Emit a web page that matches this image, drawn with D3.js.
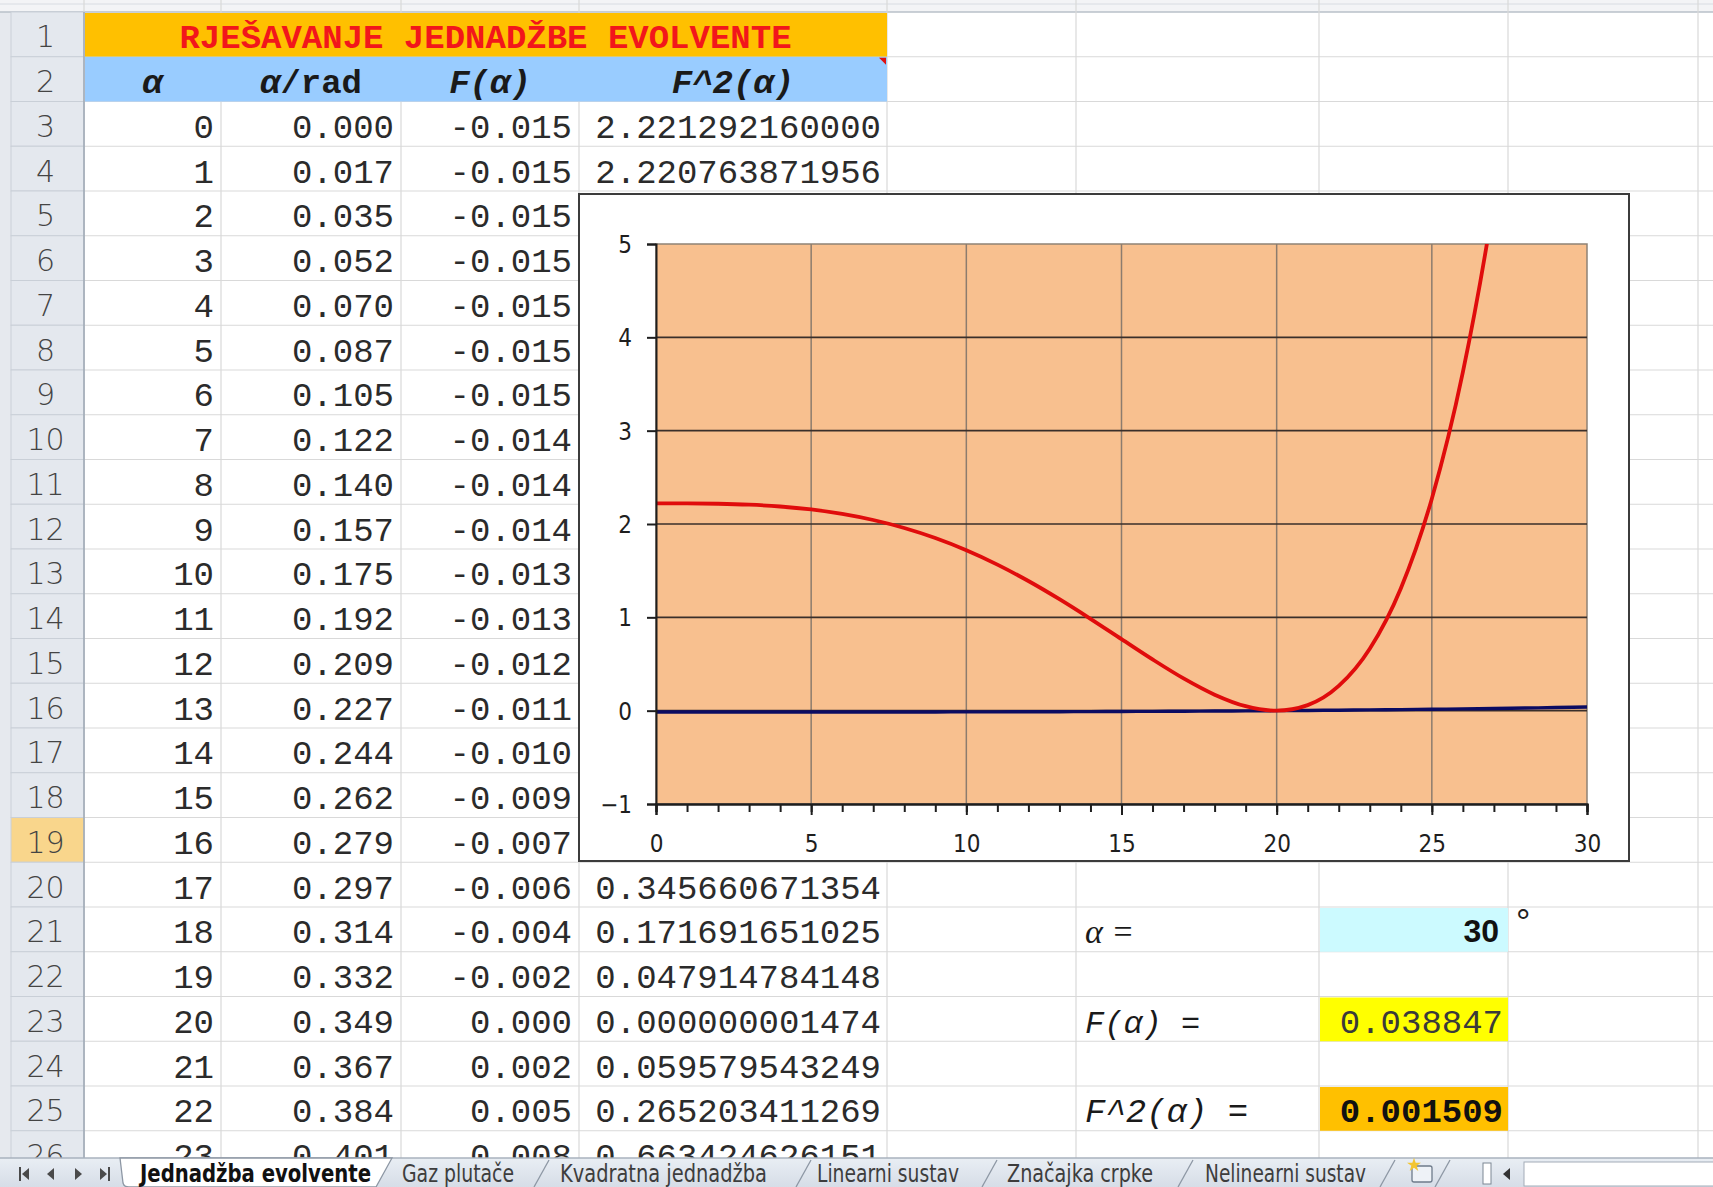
<!DOCTYPE html>
<html>
<head>
<meta charset="utf-8">
<script src="https://cdn.jsdelivr.net/npm/d3@7"></script>
<style>
body{margin:0;background:#fff;}
svg{display:block;}
</style>
</head>
<body>
<svg id="sheet" width="1713" height="1187"></svg>
<script>
// ---------------------------------------------- DATA ----------------------------------------------
// chart series: alpha in degrees, F(alpha) and F^2(alpha) (column D is F^2 * 10^4)
var ALPHA = [0,1,2,3,4,5,6,7,8,9,10,11,12,13,14,15,16,17,18,19,20,21,22,23,24,25,26,27,28,29,30];
var F_VALUES = [-0.01490,-0.01490,-0.01489,-0.01486,-0.01479,-0.01468,-0.01452,-0.01429,-0.01399,-0.01360,
	-0.01311,-0.01251,-0.01179,-0.01093,-0.00992,-0.00875,-0.00741,-0.00588,-0.00414,-0.00219,
	0.00000,0.00244,0.00515,0.00815,0.01145,0.01507,0.01904,0.02338,0.02811,0.03326,0.03885];
var F2_VALUES = [2.2213,2.2208,2.2171,2.2070,2.1876,2.1556,2.1082,2.0428,1.9571,1.8494,
	1.7187,1.5650,1.3893,1.1943,0.9845,0.7664,0.5493,0.3457,0.1717,0.0479,
	0.0000,0.0596,0.2652,0.6634,1.3100,2.2714,3.6264,5.4675,7.9035,11.062,15.091];
var Y_TICKS = [-1,0,1,2,3,4,5];
var X_TICKS = [0,5,10,15,20,25,30];
var X_MINOR = [0,1,2,3,4,5,6,7,8,9,10,11,12,13,14,15,16,17,18,19,20,21,22,23,24,25,26,27,28,29,30];

// table text (rows 3..26)
var TABLE_ALPHA = ["0","1","2","3","4","5","6","7","8","9","10","11","12","13","14","15","16","17","18","19","20","21","22","23"];
var TABLE_RAD = ["0.000","0.017","0.035","0.052","0.070","0.087","0.105","0.122","0.140","0.157","0.175","0.192",
	"0.209","0.227","0.244","0.262","0.279","0.297","0.314","0.332","0.349","0.367","0.384","0.401"];
var TABLE_F = ["-0.015","-0.015","-0.015","-0.015","-0.015","-0.015","-0.015","-0.014","-0.014","-0.014","-0.013","-0.013",
	"-0.012","-0.011","-0.010","-0.009","-0.007","-0.006","-0.004","-0.002","0.000","0.002","0.005","0.008"];
// rows 5..19 of column D sit under the chart
var TABLE_F2 = ["2.221292160000","2.220763871956","","","","","","","","","","","","","","","","0.345660671354",
	"0.171691651025","0.047914784148","0.000000001474","0.059579543249","0.265203411269","0.663424626151"];
// header parts: [italic part, upright part]
var HEADERS = [["α",""],["α","/rad"],["F(α)",""],["F^2(α)",""]];
var TITLE = "RJEŠAVANJE JEDNADŽBE EVOLVENTE";
var SHEET_TABS = ["Jednadžba evolvente","Gaz plutače","Kvadratna jednadžba","Linearni sustav","Značajka crpke","Nelinearni sustav"];

// ---------------------------------------------- LAYOUT ----------------------------------------------
var COLS = [11,84,221,401,579,887,1076,1319,1508,1698,1713];
var ROW_TOP = 12, ROW_H = 44.75, N_ROWS = 26, TAB_TOP = 1158;
var MONO = "'Liberation Mono','Courier New',monospace";
var NARROW = "'Liberation Sans Narrow','DejaVu Sans Condensed','Liberation Sans',sans-serif";
var TAB_X = [140,402,560,817,1007,1205];
var TAB_W = [231,112,207,142,146,161];
var TAB_SEP = [541,803,989,1185,1387,1442];

var svg = d3.select("#sheet");
var defs = svg.append("defs");
// the sheet area ends where the tab bar starts
defs.append("clipPath").attr("id","sheetClip").append("rect")
	.attr("x",0).attr("y",0).attr("width",1713).attr("height",TAB_TOP);

function rowY(r){ return ROW_TOP+(r-1)*ROW_H; }

function _cellText(g,text,x,row,anchor,opts){
	opts = opts || {};
	return g.append("text")
		.text(text)
		.attr("x",x)
		.attr("y",rowY(row)+ROW_H/2+(opts.dy||14))
		.attr("text-anchor",anchor)
		.style("font-family",opts.family||MONO)
		.style("font-size",(opts.size||34)+"px")
		.style("font-weight",opts.weight||"normal")
		.style("font-style",opts.style||"normal")
		.style("fill",opts.fill||"#2b2b2b");
}

// ---------------------------------------------- GRID ----------------------------------------------
function drawGrid(){
	var g = svg.append("g").attr("id","grid").attr("clip-path","url(#sheetClip)");
	g.append("rect").attr("x",0).attr("y",0).attr("width",1713).attr("height",1187).style("fill","#fff");
	// window edge + column header strip
	g.append("rect").attr("x",0).attr("y",0).attr("width",11).attr("height",TAB_TOP).style("fill","#E6E9EE");
	g.append("rect").attr("x",0).attr("y",0).attr("width",1713).attr("height",ROW_TOP).style("fill","#F3F4F6");
	g.append("line").attr("x1",0).attr("x2",1713).attr("y1",4).attr("y2",4).style("stroke","#D8DCE2");
	g.append("line").attr("x1",0).attr("x2",1713).attr("y1",ROW_TOP).attr("y2",ROW_TOP).style("stroke","#B9C0C9").style("stroke-width",1.5);

	for (var i=1;i<COLS.length-1;i++){
		g.append("line").attr("x1",COLS[i]).attr("x2",COLS[i]).attr("y1",0).attr("y2",TAB_TOP)
			.style("stroke","#D9D9D9").style("stroke-width",1.2);
	}
	for (var r=1;r<=N_ROWS;r++){
		g.append("line").attr("x1",COLS[1]).attr("x2",1713).attr("y1",rowY(r)+ROW_H).attr("y2",rowY(r)+ROW_H)
			.style("stroke","#D9D9D9").style("stroke-width",1.2);
	}
	// row headers
	for (var r=1;r<=N_ROWS;r++){
		g.append("rect").attr("x",COLS[0]).attr("y",rowY(r)).attr("width",COLS[1]-COLS[0]).attr("height",ROW_H)
			.style("fill",r==19?"#F9D68C":"#E4E8EE")
			.style("stroke","#C9CFD7").style("stroke-width",1);
		g.append("text").text(r)
			.attr("x",(COLS[0]+COLS[1])/2-2).attr("y",rowY(r)+ROW_H/2+13)
			.attr("text-anchor","middle")
			.style("font-family","'DejaVu Sans',sans-serif").style("font-weight",200)
			.style("font-size","30px").style("fill","#444");
	}
	g.append("line").attr("x1",COLS[1]).attr("x2",COLS[1]).attr("y1",ROW_TOP).attr("y2",TAB_TOP)
		.style("stroke","#9EA8B4").style("stroke-width",1.5);
}

// ---------------------------------------------- TABLE ----------------------------------------------
function drawTable(){
	var g = svg.append("g").attr("id","table").attr("clip-path","url(#sheetClip)");
	// title row
	g.append("rect").attr("x",COLS[1]+1).attr("y",rowY(1)+1).attr("width",COLS[5]-COLS[1]-1).attr("height",ROW_H-1)
		.style("fill","#FFC000");
	_cellText(g,TITLE,(COLS[1]+COLS[5])/2,1,"middle",{weight:"bold",fill:"#F2161B"});
	// header row
	g.append("rect").attr("x",COLS[1]+1).attr("y",rowY(2)).attr("width",COLS[5]-COLS[1]-1).attr("height",ROW_H)
		.style("fill","#99CCFF");
	HEADERS.forEach(function(h,i){
		var t = _cellText(g,"",(COLS[i+1]+COLS[i+2])/2,2,"middle",{weight:"bold",fill:"#1a1a1a"});
		t.append("tspan").text(h[0]).style("font-style","italic");
		if (h[1]) t.append("tspan").text(h[1]);
	});
	// comment marker
	g.append("path").attr("d","M"+(COLS[5]-8)+","+(rowY(2)+1)+"L"+(COLS[5]-1)+","+(rowY(2)+1)+"L"+(COLS[5]-1)+","+(rowY(2)+8)+"Z")
		.style("fill","#E01010");

	for (var i=0;i<TABLE_ALPHA.length;i++){
		var row = i+3;
		_cellText(g,TABLE_ALPHA[i],COLS[2]-7,row,"end");
		_cellText(g,TABLE_RAD[i],COLS[3]-7,row,"end");
		_cellText(g,TABLE_F[i],COLS[4]-7,row,"end");
		if (TABLE_F2[i]) _cellText(g,TABLE_F2[i],COLS[5]-6,row,"end");
	}

	// ---- input / result block ----
	g.append("rect").attr("x",COLS[7]+1).attr("y",rowY(21)+1).attr("width",COLS[8]-COLS[7]-1).attr("height",ROW_H-1).style("fill","#CCFAFF");
	g.append("rect").attr("x",COLS[7]+1).attr("y",rowY(23)+1).attr("width",COLS[8]-COLS[7]-1).attr("height",ROW_H-1).style("fill","#FFFF00");
	g.append("rect").attr("x",COLS[7]+1).attr("y",rowY(25)+1).attr("width",COLS[8]-COLS[7]-1).attr("height",ROW_H-1).style("fill","#FFC000");

	_cellText(g,"α =",COLS[6]+9,21,"start",{family:"'Liberation Serif','DejaVu Serif',serif",style:"italic",size:34,fill:"#1a1a1a"});
	_cellText(g,"F(α)  =",COLS[6]+9,23,"start",{style:"italic",size:32,fill:"#1a1a1a"});
	_cellText(g,"F^2(α)  =",COLS[6]+9,25,"start",{style:"italic",size:34,fill:"#1a1a1a"});

	_cellText(g,"30",COLS[8]-9,21,"end",{family:"'Liberation Sans',Arial,sans-serif",size:32,weight:"bold",fill:"#111",dy:13});
	_cellText(g,"°",COLS[8]+8,21,"start",{family:"'Liberation Sans',Arial,sans-serif",size:36,fill:"#222",dy:6});
	_cellText(g,"0.038847",COLS[8]-5,23,"end",{fill:"#3a3a3a"});
	_cellText(g,"0.001509",COLS[8]-5,25,"end",{weight:"bold",fill:"#111"});
}

// ---------------------------------------------- CHART ----------------------------------------------
function drawChart(){
	var box = {x:579,y:194,w:1050,h:667};
	var g = svg.append("g").attr("id","chart");
	g.append("rect").attr("x",box.x).attr("y",box.y).attr("width",box.w).attr("height",box.h)
		.style("fill","#fff").style("stroke","#3c3c3c").style("stroke-width",2);

	var x = d3.scaleLinear().domain([0,30]).range([656,1587]);
	var y = d3.scaleLinear().domain([-1,5]).range([804,244]);

	g.append("rect").attr("x",x(0)).attr("y",y(5)).attr("width",x(30)-x(0)).attr("height",y(-1)-y(5))
		.style("fill","#F8C08F").style("stroke","#8E8276").style("stroke-width",1.5);

	// vertical gridlines
	g.selectAll(".vgrid").data(X_TICKS.slice(1,-1)).enter().append("line")
		.attr("x1",function(d){return x(d);}).attr("x2",function(d){return x(d);})
		.attr("y1",y(5)).attr("y2",y(-1))
		.style("stroke","#8C7C6E").style("stroke-width",1.5);
	// horizontal gridlines
	g.selectAll(".hgrid").data(Y_TICKS.slice(1,-1)).enter().append("line")
		.attr("x1",x(0)).attr("x2",x(30))
		.attr("y1",function(d){return y(d);}).attr("y2",function(d){return y(d);})
		.style("stroke","#3a2f2a").style("stroke-width",1.6);

	g.append("clipPath").attr("id","plotClip").append("rect")
		.attr("x",x(0)).attr("y",y(5)).attr("width",x(30)-x(0)).attr("height",y(-1)-y(5));

	var line = d3.line()
		.x(function(d){return x(d[0]);})
		.y(function(d){return y(d[1]);})
		.curve(d3.curveMonotoneX);

	var lines = g.append("g").attr("clip-path","url(#plotClip)");
	lines.append("path").datum(d3.zip(ALPHA,F_VALUES)).attr("d",line)
		.style("fill","none").style("stroke","#0B0B62").style("stroke-width",3.4);
	lines.append("path").datum(d3.zip(ALPHA,F2_VALUES)).attr("d",line)
		.style("fill","none").style("stroke","#E00C0C").style("stroke-width",3.8);

	// axes
	var yAxis = g.append("g").attr("transform","translate("+x(0)+",0)")
		.call(d3.axisLeft(y).tickValues(Y_TICKS).tickSize(9).tickPadding(15).tickFormat(function(d){return d<0?"\u2212"+(-d):d;}));
	var xMinor = g.append("g").attr("transform","translate(0,"+y(-1)+")")
		.call(d3.axisBottom(x).tickValues(X_MINOR).tickSize(8).tickFormat(""));
	var xAxis = g.append("g").attr("transform","translate(0,"+y(-1)+")")
		.call(d3.axisBottom(x).tickValues(X_TICKS).tickSize(11).tickPadding(20));

	[yAxis,xMinor,xAxis].forEach(function(a){
		a.select(".domain").style("stroke","#1e1e1e").style("stroke-width",2);
		a.selectAll(".tick line").style("stroke","#1e1e1e").style("stroke-width",2);
		a.selectAll("text").style("font-family",NARROW).style("font-stretch","condensed")
			.style("font-size","24px").style("fill","#1e1e1e");
	});
	yAxis.selectAll("text").attr("dy","0.36em");
}

// ---------------------------------------------- SHEET TABS ----------------------------------------------
function drawTabs(){
	var g = svg.append("g").attr("id","tabs");
	var grad = defs.append("linearGradient").attr("id","tabBar").attr("x1",0).attr("x2",0).attr("y1",0).attr("y2",1);
	grad.append("stop").attr("offset","0%").attr("stop-color","#E9EEF4");
	grad.append("stop").attr("offset","100%").attr("stop-color","#D6DDE7");

	g.append("rect").attr("x",0).attr("y",TAB_TOP).attr("width",1713).attr("height",1187-TAB_TOP).style("fill","url(#tabBar)");
	g.append("line").attr("x1",0).attr("x2",1713).attr("y1",TAB_TOP).attr("y2",TAB_TOP).style("stroke","#A9B2BE").style("stroke-width",1.5);

	// navigation buttons
	var cy = 1174, c = "#4a4a4a";
	g.append("rect").attr("x",19).attr("y",cy-7).attr("width",2).attr("height",14).style("fill",c);
	g.append("path").attr("d","M22,"+cy+"L29,"+(cy-6)+"L29,"+(cy+6)+"Z").style("fill",c);
	g.append("path").attr("d","M47,"+cy+"L54,"+(cy-6)+"L54,"+(cy+6)+"Z").style("fill",c);
	g.append("path").attr("d","M82,"+cy+"L75,"+(cy-6)+"L75,"+(cy+6)+"Z").style("fill",c);
	g.append("path").attr("d","M107,"+cy+"L100,"+(cy-6)+"L100,"+(cy+6)+"Z").style("fill",c);
	g.append("rect").attr("x",108).attr("y",cy-7).attr("width",2).attr("height",14).style("fill",c);

	// separators of inactive tabs
	TAB_SEP.forEach(function(sx){
		g.append("line").attr("x1",sx-7).attr("y1",1187).attr("x2",sx+8).attr("y2",TAB_TOP+2)
			.style("stroke","#8D97A4").style("stroke-width",1.3);
	});
	// active tab
	g.append("path").attr("d","M120,"+TAB_TOP+"L123,1183Q124,1187 129,1187L376,1187L392,"+TAB_TOP+"Z")
		.style("fill","#fff").style("stroke","#8D97A4").style("stroke-width",1.3);

	SHEET_TABS.forEach(function(t,i){
		g.append("text").text(t)
			.attr("x",TAB_X[i]).attr("y",1182)
			.attr("textLength",TAB_W[i]).attr("lengthAdjust","spacingAndGlyphs")
			.style("font-family",NARROW).style("font-stretch","condensed")
			.style("font-size","24px")
			.style("font-weight",i==0?"bold":"normal")
			.style("fill",i==0?"#111":"#3d3d3d");
	});

	// insert-sheet icon
	g.append("rect").attr("x",1412).attr("y",1166).attr("width",20).attr("height",16).attr("rx",2)
		.style("fill","#EEF2F7").style("stroke","#6E7B8B").style("stroke-width",1.3);
	g.append("path").attr("d",d3.symbol().type(d3.symbolStar).size(60)()).attr("transform","translate(1414,1165)")
		.style("fill","#F3C530");

	// splitter + scroll bar
	g.append("rect").attr("x",1483).attr("y",1163).attr("width",8).attr("height",21).style("fill","#fff").style("stroke","#7D8794");
	g.append("path").attr("d","M1503,1174L1510,1168L1510,1180Z").style("fill","#333");
	g.append("rect").attr("x",1524).attr("y",1162).attr("width",200).attr("height",24).style("fill","#fff").style("stroke","#A3ACB8");
}

drawGrid();
drawTable();
drawChart();
drawTabs();
</script>
</body>
</html>
